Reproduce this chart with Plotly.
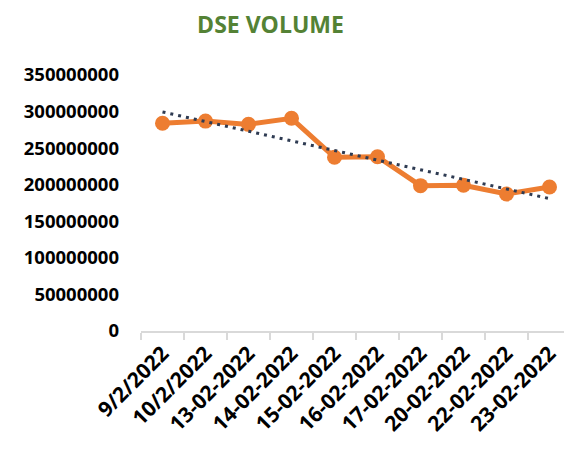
import numpy as np
import plotly.graph_objects as go

dates = ["9/2/2022", "10/2/2022", "13-02-2022", "14-02-2022", "15-02-2022",
         "16-02-2022", "17-02-2022", "20-02-2022", "22-02-2022", "23-02-2022"]
volume = [284000000, 287000000, 282500000, 290800000, 237500000,
          238300000, 198700000, 199200000, 187300000, 196900000]
y_ticks = [0, 50000000, 100000000, 150000000, 200000000, 250000000, 300000000, 350000000]

# linear trendline (Excel style) computed from the data
xi = np.arange(1, len(volume) + 1)
slope, intercept = np.polyfit(xi, volume, 1)
trend = slope * xi + intercept

ORANGE = "#ED7D31"
TREND = "#2E3B52"
FONT = "Open Sans"

fig = go.Figure()
fig.add_trace(go.Scatter(
    x=dates, y=volume, mode="lines+markers",
    line=dict(color=ORANGE, width=5),
    marker=dict(color=ORANGE, size=15),
    showlegend=False, hoverinfo="skip"))
fig.add_trace(go.Scatter(
    x=dates, y=trend, mode="lines",
    line=dict(color=TREND, width=3, dash="3px,5px"),
    showlegend=False, hoverinfo="skip"))

fig.update_layout(
    width=564, height=446,
    paper_bgcolor="white", plot_bgcolor="white",
    margin=dict(l=133, r=1, t=67, b=123, autoexpand=False),
    title=dict(text="<b>DSE VOLUME</b>", x=0.4654, xanchor="center",
               y=0.962, yanchor="middle",
               font=dict(family=FONT, size=23, color="#548235")),
    font=dict(family=FONT, color="black"),
)
fig.update_xaxes(
    type="category", range=[-0.5, 9.5], automargin=False,
    showline=True, linecolor="#D9D9D9", linewidth=2,
    ticks="outside", tickson="boundaries", ticklen=7, tickwidth=2, tickcolor="#D9D9D9",
    tickangle=-45, showgrid=False, zeroline=False,
    tickfont=dict(family=FONT, size=21, color="black", weight="bold"),
)
fig.update_yaxes(
    range=[0, 350000000], tickvals=y_ticks, ticktext=[str(v) for v in y_ticks],
    automargin=False,
    showline=False, showgrid=False, zeroline=False, ticks="",
    ticklabelstandoff=21,
    tickfont=dict(family=FONT, size=18.5, color="black", weight="bold"),
)

fig.write_html("out.html")
